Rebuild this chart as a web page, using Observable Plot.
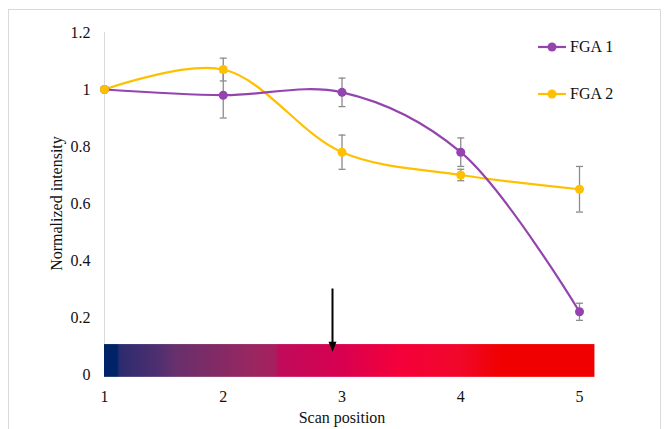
<!DOCTYPE html>
<html>
<head>
<meta charset="utf-8">
<script src="https://cdn.jsdelivr.net/npm/d3@7"></script>
<script src="https://cdn.jsdelivr.net/npm/@observablehq/plot@0.6"></script>
<style>
  html, body { margin: 0; padding: 0; background: #fff; }
  #wrap { position: relative; width: 668px; height: 429px; overflow: hidden; font-family: "Liberation Serif", "Times New Roman", serif; }
  #frame { position: absolute; left: 8px; top: 9px; width: 651px; height: 425px; border: 1px solid #d9d9d9; pointer-events: none; }
  .leg { position: absolute; left: 537px; display: flex; align-items: center; font-size: 16px; color: #111; }
  .leg svg { margin-right: 3px; }
</style>
</head>
<body>
<div id="wrap"><div id="frame"></div></div>
<script>
// ---- data ----
const positions = [1, 2, 3, 4, 5];
const fga1 = [1.00, 0.98, 0.99, 0.78, 0.22];
const fga1Err = [0, 0.08, 0.05, 0.05, 0.03];
const fga2 = [1.00, 1.07, 0.78, 0.70, 0.65];
const fga2Err = [0, 0.04, 0.06, 0.02, 0.08];
const seriesNames = ["FGA 1", "FGA 2"];
const seriesColors = ["#9444ae", "#ffc000"];
const xTicks = [1, 2, 3, 4, 5];
const yTicks = [0, 0.2, 0.4, 0.6, 0.8, 1, 1.2];
// colour strip under the curves (scan position range and colour stops)
const stripX = [1, 5.13];
const stripY = [-0.01, 0.105];
const stripStopPos = [1.0, 1.11, 1.13, 1.45, 1.6, 1.95, 2.25, 2.44, 2.47, 3.0, 3.5, 4.0, 4.35, 5.13];
const stripStopColor = ["#002266", "#002266", "#2c2b6e", "#4e2f70", "#67306c", "#822a66", "#9a2660", "#a6205e", "#bf0c5a", "#d80050", "#f5003a", "#f0082a", "#f00000", "#f00000"];
// marker arrow
const arrowX = [2.92];
const arrowFrom = [0.30];
const arrowTo = [0.08];

const rows = [];
positions.forEach((p, i) => {
  rows.push({series: seriesNames[0], x: p, y: fga1[i], e: fga1Err[i]});
});
positions.forEach((p, i) => {
  rows.push({series: seriesNames[1], x: p, y: fga2[i], e: fga2Err[i]});
});
const errRows = rows.filter(d => d.e > 0);

const capSymbol = { draw(ctx) { ctx.moveTo(-3.5, 0); ctx.lineTo(3.5, 0); } };
const headSymbol = { draw(ctx) { ctx.moveTo(-4, -10); ctx.lineTo(4, -10); ctx.lineTo(0, 0); ctx.closePath(); } };

const strip = [{x1: stripX[0], x2: stripX[1], y1: stripY[0], y2: stripY[1]}];
const arrow = arrowX.map((x, i) => ({x, y1: arrowFrom[i], y2: arrowTo[i]}));

const chart = Plot.plot({
  width: 668,
  height: 429,
  marginLeft: 104,
  marginRight: 89,
  marginTop: 32,
  marginBottom: 55,
  style: { fontFamily: "Liberation Serif, Times New Roman, serif", fontSize: "16px", background: "transparent", color: "#111" },
  x: { domain: [1, 5] },
  y: { domain: [0, 1.2] },
  marks: [
    Plot.ruleX([1], { stroke: "#d9d9d9", strokeWidth: 1 }),
    Plot.rect(strip, { x1: "x1", x2: "x2", y1: "y1", y2: "y2", fill: "url(#stripGrad)" }),
    Plot.ruleX(arrow, { x: "x", y1: "y1", y2: d => d.y2 + 0.03, stroke: "#000", strokeWidth: 2 }),
    Plot.dot(arrow, { x: "x", y: "y2", symbol: headSymbol, fill: "#000", stroke: "none", r: 4 }),
    Plot.ruleX(errRows, { x: "x", y1: d => d.y - d.e, y2: d => d.y + d.e, stroke: "#8c8c8c", strokeWidth: 1.3 }),
    Plot.dot(errRows, { x: "x", y: d => d.y - d.e, symbol: capSymbol, stroke: "#8c8c8c", fill: "none", strokeWidth: 1.3 }),
    Plot.dot(errRows, { x: "x", y: d => d.y + d.e, symbol: capSymbol, stroke: "#8c8c8c", fill: "none", strokeWidth: 1.3 }),
    Plot.line(rows.filter(d => d.series === seriesNames[1]), { x: "x", y: "y", stroke: seriesColors[1], strokeWidth: 2.2, curve: "catmull-rom" }),
    Plot.line(rows.filter(d => d.series === seriesNames[0]), { x: "x", y: "y", stroke: seriesColors[0], strokeWidth: 2.2, curve: "catmull-rom" }),
    Plot.dot(rows.filter(d => d.series === seriesNames[0]), { x: "x", y: "y", r: 4.5, fill: seriesColors[0], stroke: "none" }),
    Plot.dot(rows.filter(d => d.series === seriesNames[1]), { x: "x", y: "y", r: 4.5, fill: seriesColors[1], stroke: "none" }),
    Plot.axisX({ ticks: xTicks, tickSize: 0, tickPadding: 16, tickFormat: d => String(d), label: "Scan position", labelArrow: "none", labelAnchor: "center", labelOffset: 48 }),
    Plot.axisY({ ticks: yTicks, tickSize: 0, tickPadding: 14, tickFormat: d => String(+d.toFixed(1)), label: "Normalized intensity", labelArrow: "none", labelAnchor: "center", labelOffset: 54 })
  ]
});

// gradient definition for the colour strip
const ns = "http://www.w3.org/2000/svg";
const defs = document.createElementNS(ns, "defs");
const grad = document.createElementNS(ns, "linearGradient");
grad.setAttribute("id", "stripGrad");
grad.setAttribute("x1", "0"); grad.setAttribute("x2", "1");
grad.setAttribute("y1", "0"); grad.setAttribute("y2", "0");
stripStopPos.forEach((p, i) => {
  const st = document.createElementNS(ns, "stop");
  st.setAttribute("offset", ((p - stripX[0]) / (stripX[1] - stripX[0])).toFixed(4));
  st.setAttribute("stop-color", stripStopColor[i]);
  grad.appendChild(st);
});
defs.appendChild(grad);
chart.insertBefore(defs, chart.firstChild);
chart.style.position = "absolute";
chart.style.left = "0";
chart.style.top = "0";

// remove any leftover arrow glyphs from axis labels
chart.querySelectorAll("text").forEach(t => {
  if (/[→↑]/.test(t.textContent)) t.textContent = t.textContent.replace(/\s*[→↑]\s*/g, "");
});

const wrap = document.getElementById("wrap");
wrap.insertBefore(chart, wrap.firstChild);

// legend
const legTops = [38, 85];
seriesNames.forEach((name, i) => {
  const item = document.createElement("div");
  item.className = "leg";
  item.style.top = legTops[i] + "px";
  item.innerHTML = `<svg width="30" height="18"><line x1="1" x2="29" y1="9" y2="9" stroke="${seriesColors[i]}" stroke-width="2.2"/><circle cx="15" cy="9" r="4.5" fill="${seriesColors[i]}"/></svg><span>${name}</span>`;
  wrap.appendChild(item);
});
</script>
</body>
</html>
